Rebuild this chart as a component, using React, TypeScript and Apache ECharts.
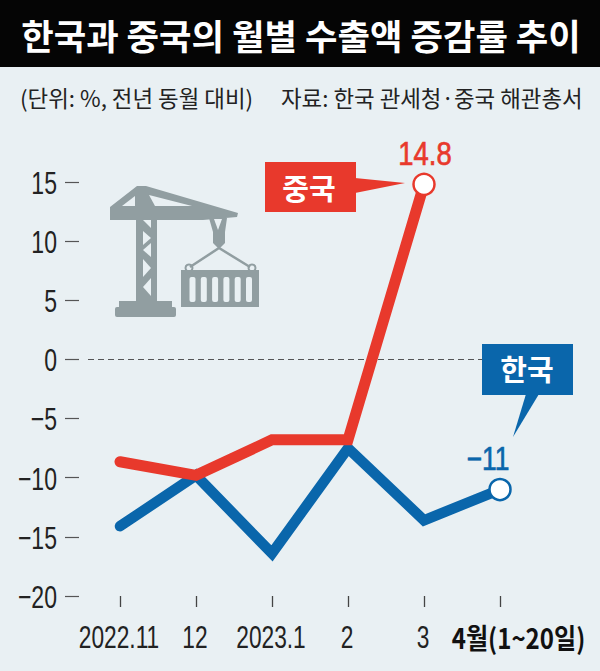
import React, { useEffect, useRef } from "react";
import * as echarts from "echarts";

const categories = ["2022.11", "12", "2023.1", "2", "3", "4월(1~20일)"];
const korea = [-14.1, -9.8, -16.4, -7.5, -13.6, -11];
const china = [-8.65, -9.8, -6.8, -6.8, 14.8];
const yTicks = [15, 10, 5, 0, -5, -10, -15, -20];
const title = "한국과 중국의 월별 수출액 증감률 추이";
const unitNote = "(단위: %, 전년 동월 대비)";
const sourceNote = "자료: 한국 관세청·중국 해관총서";

const BG = "#e9f0f3";
const RED = "#e8392c";
const BLUE = "#0a66ab";
const GREY = "#919ea1";
const INK = "#222";
const KR = "'Noto Sans CJK KR', sans-serif";
const NUM = "'Liberation Sans', sans-serif";

const fmt = (v: number) => (v < 0 ? `−${-v}` : `${v}`);

export default function App() {
  const ref = useRef<HTMLDivElement>(null);
  useEffect(() => {
    document.body.style.margin = "0";
    const chart = echarts.init(ref.current!, null, { renderer: "svg" });

    const yLabelSeries = {
      type: "custom",
      silent: true,
      z: 5,
      data: yTicks.map((t) => [0, t]),
      renderItem: (_: unknown, api: any) => {
        const p = api.coord([api.value(0), api.value(1)]);
        return {
          type: "text",
          x: 57,
          y: p[1] + 1,
          scaleX: 0.72,
          style: {
            text: fmt(api.value(1)),
            fill: INK,
            font: `32px ${NUM}`,
            textAlign: "right",
            textVerticalAlign: "middle",
          },
        };
      },
    };

    const xLabelSeries = {
      type: "custom",
      silent: true,
      z: 5,
      data: categories.map((_, i) => [i, -20]),
      renderItem: (_: unknown, api: any) => {
        const i = api.value(0);
        const p = api.coord([i, -20]);
        const bold = categories[i].includes("월");
        return {
          type: "text",
          x: p[0] + (bold ? 18.5 : -1),
          y: 637,
          scaleX: bold ? 0.86 : 0.71,
          style: {
            text: categories[i],
            fill: bold ? "#111" : INK,
            font: bold ? `bold 28px ${KR}` : `32px ${NUM}`,
            textAlign: "center",
            textVerticalAlign: "middle",
          },
        };
      },
    };

    const valueLabelSeries = (
      idx: number,
      value: number,
      color: string,
      dx: number,
      dy: number,
      sx: number,
    ) => ({
      type: "custom",
      silent: true,
      z: 6,
      data: [[idx, value]],
      renderItem: (_: unknown, api: any) => {
        const p = api.coord([api.value(0), api.value(1)]);
        return {
          type: "text",
          x: p[0] + dx,
          y: p[1] + dy,
          scaleX: sx,
          style: {
            text: fmt(api.value(1)),
            fill: color,
            stroke: color,
            lineWidth: 0.7,
            font: `33px ${NUM}`,
            textAlign: "center",
            textVerticalAlign: "middle",
          },
        };
      },
    });

    const poly = (points: number[][], fill = GREY) => ({
      type: "polygon",
      shape: { points },
      style: { fill },
    });

    chart.setOption({
      animation: false,
      backgroundColor: BG,
      grid: { left: 120, right: 100, top: 182, bottom: 75 },
      xAxis: {
        type: "category",
        data: categories,
        boundaryGap: false,
        axisLine: { show: false, onZero: false },
        axisTick: { show: true, interval: 0, length: 11, alignWithLabel: true, lineStyle: { color: "#444", width: 1.3 } },
        axisLabel: { show: false },
      },
      yAxis: {
        type: "value",
        min: -20,
        max: 15,
        interval: 5,
        position: "left",
        offset: 41,
        axisLine: { show: false },
        axisTick: { show: true, length: 14, lineStyle: { color: "#555", width: 1.2 } },
        splitLine: { show: false },
        axisLabel: { show: false },
      },
      series: [
        {
          type: "line",
          name: "한국",
          data: korea,
          z: 2,
          lineStyle: { color: BLUE, width: 10.5, join: "miter", cap: "round" },
          itemStyle: { color: "#fff", borderColor: BLUE, borderWidth: 2.5 },
          symbol: (_: unknown, p: { dataIndex: number }) => (p.dataIndex === 5 ? "circle" : "none"),
          symbolSize: 21,
        },
        {
          type: "line",
          name: "중국",
          data: china,
          z: 3,
          lineStyle: { color: RED, width: 11, join: "miter", cap: "round" },
          itemStyle: { color: "#fff", borderColor: RED, borderWidth: 2.5 },
          symbol: (_: unknown, p: { dataIndex: number }) => (p.dataIndex === 4 ? "circle" : "none"),
          symbolSize: 21,
        },
        yLabelSeries,
        xLabelSeries,
        valueLabelSeries(5, korea[5], BLUE, -12, -31, 0.8),
        valueLabelSeries(4, china[4], RED, 1, -31, 0.83),
      ],
      graphic: [
        { type: "rect", z: -1, shape: { x: 0, y: 0, width: 600, height: 67 }, style: { fill: "#050505" } },
        {
          type: "text",
          x: 301,
          y: 34,
          style: { text: title, fill: "#fff", font: `bold 35.3px ${KR}`, textAlign: "center", textVerticalAlign: "middle" },
        },
        { type: "text", x: 20, y: 97, style: { text: unitNote, fill: INK, font: `22.4px ${KR}`, textVerticalAlign: "middle" } },
        { type: "text", x: 281, y: 97, style: { text: sourceNote, fill: INK, font: `22.4px ${KR}`, textVerticalAlign: "middle" } },
        { type: "line", shape: { x1: 88, y1: 359.5, x2: 482, y2: 359.5 }, style: { stroke: "#555", lineWidth: 1, lineDash: [6, 4] } },
        { type: "rect", shape: { x: 265, y: 162, width: 91, height: 50 }, style: { fill: RED } },
        poly([[355, 178], [405, 183], [355, 193]], RED),
        { type: "text", x: 309, y: 187, style: { text: "중국", fill: "#fff", font: `bold 29px ${KR}`, textAlign: "center", textVerticalAlign: "middle" } },
        { type: "rect", shape: { x: 482, y: 344, width: 91, height: 51 }, style: { fill: BLUE } },
        poly([[526, 394], [539, 394], [513, 437]], BLUE),
        { type: "text", x: 527, y: 368, style: { text: "한국", fill: "#fff", font: `bold 29px ${KR}`, textAlign: "center", textVerticalAlign: "middle" } },
        // crane
        poly([[110, 207], [137, 186], [146, 186], [238, 213], [237, 217], [203, 220], [157, 220], [157, 302], [136, 302], [136, 220], [110, 220]]),
        poly([[122, 206], [135, 206], [135, 196]], BG),
        poly([[149, 195], [155, 206], [192, 206]], BG),
        poly([[143, 220], [151, 220], [151, 228]], BG),
        poly([[143, 231], [151, 238], [143, 245]], BG),
        poly([[151, 243], [143, 250], [151, 257]], BG),
        poly([[143, 259], [151, 268], [143, 277]], BG),
        poly([[151, 278], [143, 287], [151, 296]], BG),
        { type: "rect", shape: { x: 119, y: 301, width: 53, height: 7 }, style: { fill: GREY } },
        { type: "rect", shape: { x: 115, y: 307, width: 61, height: 10, r: 2 }, style: { fill: GREY } },
        poly([[209, 218], [227, 218], [225, 232], [225, 243], [219, 249], [213, 243], [213, 232]]),
        poly([[214, 219], [222, 219], [218, 230]], BG),
        { type: "polyline", shape: { points: [[190, 267], [219, 248], [250, 267]] }, style: { fill: "none", stroke: GREY, lineWidth: 2.5 } },
        { type: "circle", shape: { cx: 189, cy: 268, r: 3.5 }, style: { fill: "none", stroke: GREY, lineWidth: 2 } },
        { type: "circle", shape: { cx: 252, cy: 268, r: 3.5 }, style: { fill: "none", stroke: GREY, lineWidth: 2 } },
        { type: "rect", shape: { x: 181, y: 270, width: 78, height: 37 }, style: { fill: GREY } },
        ...[0, 1, 2, 3, 4, 5].map((i) => ({
          type: "rect",
          shape: { x: 189.5 + i * 11.3, y: 277, width: 6, height: 25, r: 2 },
          style: { fill: BG },
        })),
      ],
    });
    return () => chart.dispose();
  }, []);
  return <div ref={ref} style={{ width: 600, height: 671 }} />;
}
